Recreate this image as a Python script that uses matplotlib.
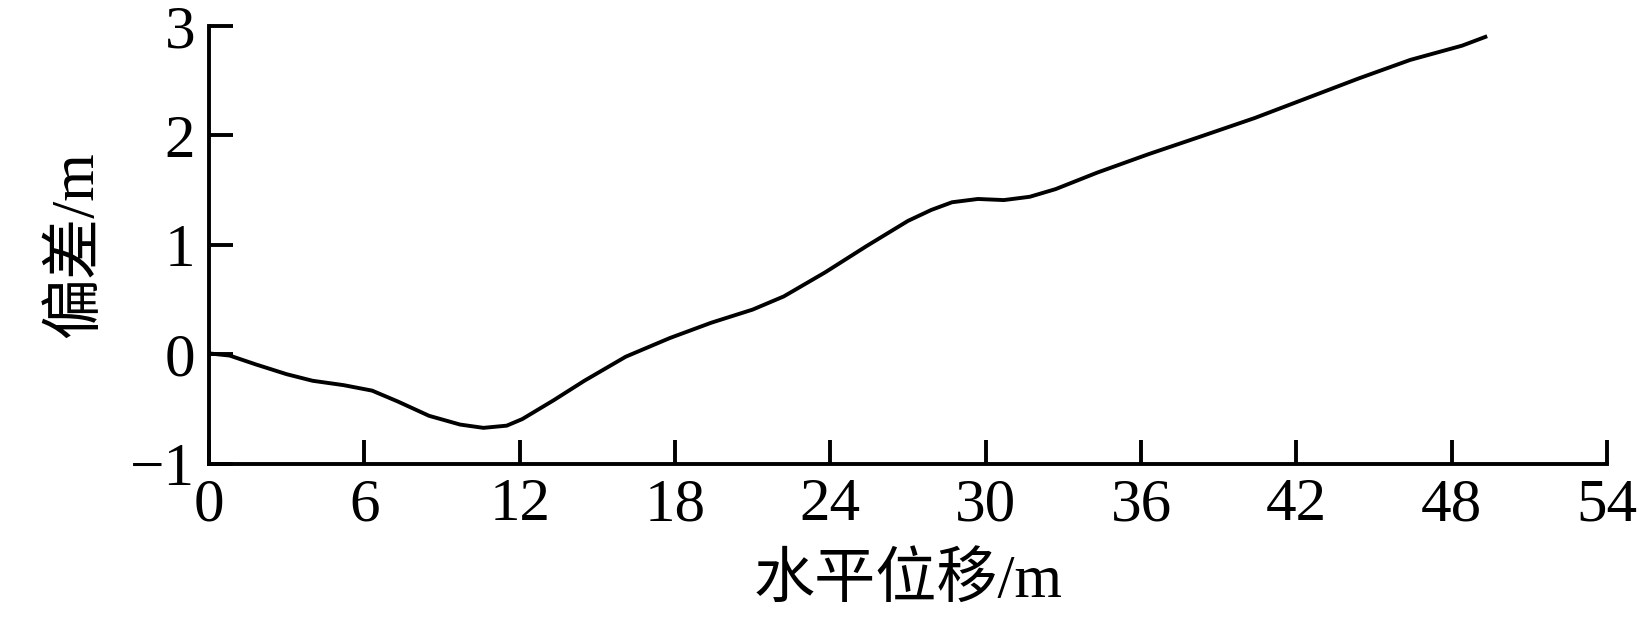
import matplotlib
matplotlib.use('Agg')
import matplotlib.pyplot as plt

# curve
x_disp = [0.0, 0.8, 1.8, 3.0, 4.0, 5.2, 6.3, 7.3, 8.5, 9.7, 10.6, 11.5, 12.1,
          13.3, 14.5, 16.1, 17.8, 19.4, 21.0, 22.2, 23.8, 25.4, 27.0, 27.9,
          28.7, 29.7, 30.7, 31.7, 32.7, 34.3, 36.3, 38.3, 40.4, 42.4, 44.4,
          46.4, 48.4, 49.3]
y_dev = [0.01, -0.01, -0.09, -0.18, -0.24, -0.28, -0.33, -0.43, -0.56, -0.64,
         -0.67, -0.65, -0.59, -0.42, -0.24, -0.02, 0.15, 0.29, 0.41, 0.53,
         0.75, 0.99, 1.22, 1.32, 1.39, 1.42, 1.41, 1.44, 1.51, 1.66, 1.83,
         1.99, 2.16, 2.34, 2.52, 2.69, 2.82, 2.90]
x_ticks = [0, 6, 12, 18, 24, 30, 36, 42, 48, 54]
y_ticks = [-1, 0, 1, 2, 3]
y_tick_labels = ['\u22121', '0', '1', '2', '3']

num_font = ['Liberation Serif']
cjk_font = ['Liberation Serif', 'Noto Sans CJK SC']

fig = plt.figure(figsize=(16.39, 6.33), dpi=100)
ax = fig.add_axes([0.1275, 0.267, 0.853, 0.692])

ax.plot(x_disp, y_dev, color='black', lw=2.8, solid_joinstyle='round')

ax.set_xlim(0, 54)
ax.set_ylim(-1, 3)
ax.set_xticks(x_ticks)
ax.set_yticks(y_ticks)
ax.set_xticklabels([str(t) for t in x_ticks], family=num_font, fontsize=44)
ax.set_yticklabels(y_tick_labels, family=num_font, fontsize=44)

for side in ['top', 'right']:
    ax.spines[side].set_visible(False)
for side in ['left', 'bottom']:
    ax.spines[side].set_linewidth(2.8)
ax.tick_params(direction='in', length=17, width=2.8, pad=10)

ax.set_xlabel('水平位移/m', family=cjk_font, fontsize=44, labelpad=14)
ax.set_ylabel('偏差/m', family=cjk_font, fontsize=44, labelpad=18)

fig.savefig('out.png', dpi=100)
